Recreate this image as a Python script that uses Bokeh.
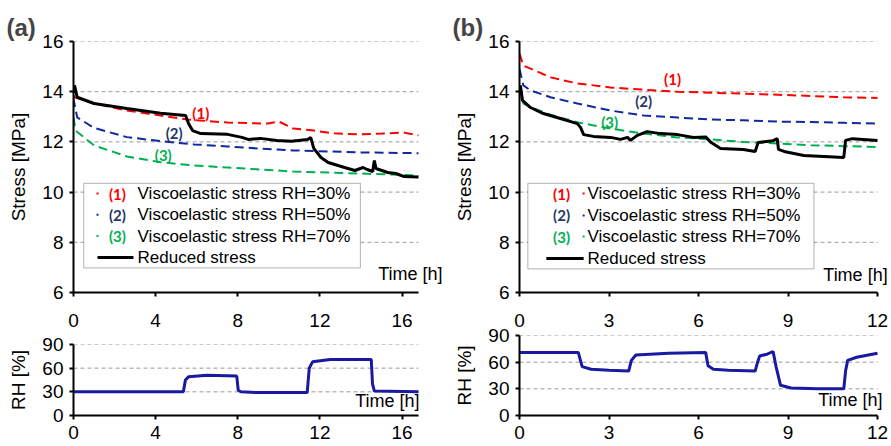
from bokeh.plotting import figure
from bokeh.models import Range1d, FixedTicker, Label, BoxAnnotation, LinearAxis
from bokeh.layouts import row, column
from bokeh.embed import file_html
from bokeh.resources import INLINE

# ---------------- data : panel (a) ----------------
a_red_t = [0, 0.05, 1.0, 2.6, 4.24, 5.56, 7.5, 9.46, 10.0, 10.7, 11.7, 12.7, 14.0, 15.0, 16.1, 16.8]
a_red_s = [13.85, 13.78, 13.53, 13.25, 13.05, 12.89, 12.77, 12.73, 12.81, 12.53, 12.45, 12.34, 12.30, 12.33, 12.37, 12.26]
a_blue_t = [0, 0.03, 0.18, 0.99, 2.6, 4.24, 5.87, 7.5, 9.1, 10.7, 12.4, 14.0, 16.8]
a_blue_s = [13.75, 13.58, 12.98, 12.56, 12.19, 12.03, 11.90, 11.82, 11.73, 11.66, 11.62, 11.58, 11.55]
a_green_t = [0, 0.1, 1.0, 2.6, 4.24, 5.87, 7.5, 9.1, 10.7, 12.4, 14.0, 16.8]
a_green_s = [12.98, 12.45, 11.86, 11.42, 11.19, 11.06, 10.98, 10.90, 10.82, 10.78, 10.74, 10.66]
a_black_t = [0, 0.05, 0.18, 1.0, 2.6, 4.24, 5.46, 5.6, 5.8, 6.2, 7.5, 8.2, 8.5, 9.1, 9.9, 10.6, 11.4,
             11.55, 11.7, 12.05, 12.4, 13.2, 13.7, 14.1, 14.3, 14.57, 14.65, 14.73, 15.3, 15.7, 16.1, 16.8]
a_black_s = [13.95, 14.25, 13.78, 13.53, 13.33, 13.14, 13.05, 12.73, 12.45, 12.33, 12.30, 12.18, 12.10, 12.14, 12.06, 12.03, 12.10,
             12.18, 11.74, 11.38, 11.18, 10.98, 10.86, 10.98, 10.90, 10.82, 11.26, 10.94, 10.78, 10.74, 10.62, 10.60]
a_rh_t = [0, 5.35, 5.45, 5.6, 6.5, 7.95, 8.02, 8.15, 9.0, 11.38, 11.48, 11.64, 12.5, 14.5, 14.56, 14.65, 16.8]
a_rh = [30, 30, 45, 49, 51, 50, 32, 30, 29, 29, 60, 68, 71, 71, 40, 31, 30]
a_xticks = [0, 4, 8, 12, 16]
a_tmax = 16.8

# ---------------- data : panel (b) ----------------
b_visco_t = [0, 0.13, 0.37, 1.04, 1.94, 3.05, 4.16, 5.3, 6.4, 7.5, 8.66, 9.76, 10.87, 12]
b_red_s = [15.52, 15.04, 14.92, 14.57, 14.33, 14.17, 14.08, 14.00, 13.96, 13.92, 13.88, 13.83, 13.78, 13.75]
b_blue_s = [14.9, 14.25, 14.05, 13.78, 13.53, 13.25, 13.05, 12.97, 12.89, 12.86, 12.81, 12.79, 12.76, 12.73]
b_green_s = [14.15, 13.53, 13.38, 13.08, 12.78, 12.53, 12.33, 12.18, 12.10, 12.00, 11.94, 11.87, 11.83, 11.80]
b_black_t = [0, 0.03, 0.1, 0.37, 0.8, 1.37, 1.94, 2.05, 2.15, 2.48, 3.05, 3.39, 3.62, 3.72, 3.95, 4.28, 4.73,
             5.3, 5.83, 6.24, 6.4, 6.74, 7.5, 7.9, 8.0, 8.5, 8.64, 8.68, 8.87, 9.53, 10.87, 10.93, 11.16, 12]
b_black_s = [14.0, 14.25, 13.65, 13.37, 13.13, 12.93, 12.73, 12.57, 12.29, 12.22, 12.18, 12.10, 12.18, 12.06, 12.26, 12.41, 12.33,
             12.29, 12.18, 12.20, 12.0, 11.74, 11.70, 11.62, 11.98, 12.05, 12.13, 11.70, 11.62, 11.46, 11.38, 12.06, 12.13, 12.06]
b_rh_t = [0, 1.97, 2.1, 2.4, 3.0, 3.66, 3.75, 3.9, 5.0, 6.24, 6.32, 6.5, 7.0, 7.9, 7.98, 8.05, 8.3, 8.5, 8.6, 8.75, 9.1,
          10.0, 10.87, 10.93, 11.0, 11.3, 12]
b_rh = [71, 71, 55, 52, 51, 50, 62, 68, 70, 71, 56, 52, 51, 50, 60, 67, 69, 72, 55, 34, 31, 30, 30, 50, 62, 65.5, 70]
b_xticks = [0, 3, 6, 9, 12]
b_tmax = 12

stress_ticks = [6, 8, 10, 12, 14, 16]
rh_ticks = [0, 30, 60, 90]
legend_labels = ["Viscoelastic stress RH=30%", "Viscoelastic stress RH=50%",
                 "Viscoelastic stress RH=70%", "Reduced stress"]
tags = ["(1)", "(2)", "(3)"]

RED, BLUE, GREEN = "#ff0000", "#1028a0", "#00b050"
TAG_COLORS = ["#ff0000", "#1f3864", "#00b050"]
RH_COLOR = "#1a1aa0"
FONT = "Liberation Sans"

TOP_H = 304          # height of the stress figures
RH_H = 446 - TOP_H   # height of the RH figures


def style_axis(ax):
    ax.axis_line_width = 2
    ax.axis_line_color = "black"
    ax.major_tick_line_width = 2
    ax.major_tick_line_color = "black"
    ax.major_tick_out = 4
    ax.major_tick_in = 0
    ax.minor_tick_line_color = None
    ax.major_label_text_font = FONT
    ax.major_label_text_font_size = "19px"
    ax.major_label_text_color = "black"
    ax.axis_label_text_font = FONT
    ax.axis_label_text_font_size = "19px"
    ax.axis_label_text_font_style = "normal"
    ax.axis_label_text_color = "black"


def make_fig(w, h, tmax, pxh, yr, yt, bt, bb):
    # frame is a little wider than the data span so that "Time [h]" fits; axis is bounded to the data span
    bl, br = 73, 2
    frame_w = w - bl - br
    p = figure(width=w, height=h, x_range=Range1d(0, frame_w / pxh), y_range=Range1d(*yr),
               output_backend="svg", toolbar_location=None,
               min_border_left=bl, min_border_right=br, min_border_top=bt, min_border_bottom=bb)
    p.outline_line_color = None
    p.background_fill_color = "white"
    p.border_fill_color = "white"
    p.xgrid.visible = False
    p.ygrid.visible = False
    p.segment(x0=[0] * len(yt), x1=[tmax] * len(yt), y0=yt, y1=yt, line_color="#9a9a9a",
              line_dash="4 3", line_width=1, level="underlay")
    p.yaxis.ticker = FixedTicker(ticks=yt)
    p.xaxis.bounds = (0, tmax)
    style_axis(p.xaxis[0])
    style_axis(p.yaxis[0])
    p.yaxis.major_label_standoff = 6
    p.yaxis.axis_label_standoff = 10
    return p


def add_text(p, x, y, text, size, color="black", align="left", bold=False, font=FONT):
    p.add_layout(Label(x=x, y=y, text=text, text_font=font, text_font_size=size,
                       text_color=color, text_align=align, text_baseline="middle",
                       text_font_style="bold" if bold else "normal"))


def stress_panel(w, tmax, pxh, xt, series, black, tag_pos, leg, time_pos, panel_lab):
    p = make_fig(w, TOP_H, tmax, pxh, (6, 16), stress_ticks, 41, TOP_H - 292)
    # time axis of the stress plot: tick marks only (its numbers are shown just below, on the RH plot's top)
    p.xaxis.ticker = FixedTicker(ticks=[], minor_ticks=xt)
    p.xaxis.minor_tick_line_color = "black"
    p.xaxis.minor_tick_line_width = 2
    p.xaxis.minor_tick_out = 4
    p.xaxis.minor_tick_in = 0
    p.xaxis.major_label_standoff = 0
    p.yaxis.axis_label = "Stress [MPa]"
    p.title.text = panel_lab
    p.title.text_font = FONT
    p.title.text_font_size = "24px"
    p.title.text_font_style = "bold"
    p.title.align = "left"
    p.title.offset = -67
    p.title.standoff = 2
    for (t, s, c) in series:
        p.line(t, s, line_color=c, line_width=2, line_dash="9 5")
    p.line(black[0], black[1], line_color="black", line_width=3)
    for (x, y), tg, c in zip(tag_pos, tags, TAG_COLORS):
        add_text(p, x, y, tg, "15px", c, "center", True, "Lato")
    # legend box
    L = leg
    p.add_layout(BoxAnnotation(left=L["left"], right=L["right"], top=L["top"], bottom=L["bottom"],
                               fill_color="white", fill_alpha=1, line_color="black", line_width=1, level="annotation"))
    dx = 1.0 / pxh
    dy = 10 / 251
    for i, lab in enumerate(legend_labels):
        y = L["rows"][i]
        if i < 3:
            add_text(p, L["tag_x"], y, tags[i], "15px", TAG_COLORS[i], "center", True, "Lato")
            p.add_layout(BoxAnnotation(left=L["dot_x"] - dx, right=L["dot_x"] + dx, top=y + dy, bottom=y - dy,
                                       fill_color=[RED, BLUE, GREEN][i], fill_alpha=1, line_color=None))
        else:
            p.add_layout(BoxAnnotation(left=L["line_x"][0], right=L["line_x"][1], top=y + 1.5 * dy, bottom=y - 1.5 * dy,
                                       fill_color="black", fill_alpha=1, line_color=None))
        add_text(p, L["text_x"], y, lab, "17px")
    add_text(p, time_pos[0], time_pos[1], "Time [h]", "18px", align="right")
    return p


def rh_panel(w, tmax, pxh, xt, frame_top, top_stand, t, rh, time_pos):
    p = make_fig(w, RH_H, tmax, pxh, (0, 90), rh_ticks, frame_top - TOP_H, 31)
    p.xaxis.ticker = FixedTicker(ticks=xt)
    p.xaxis.major_label_standoff = 6
    p.yaxis.axis_label = "RH [%]"
    # numbers of the stress plot's time axis
    top = LinearAxis(ticker=FixedTicker(ticks=xt), bounds=(0, tmax))
    style_axis(top)
    top.axis_line_color = None
    top.major_tick_line_color = None
    top.major_tick_out = 0
    top.major_label_standoff = top_stand
    p.add_layout(top, "above")
    p.line(t, rh, line_color=RH_COLOR, line_width=3)
    add_text(p, time_pos[0], time_pos[1], "Time [h]", "18px", align="right")
    return p


PXH_A = 345 / a_tmax
PXH_B = 358 / b_tmax

# panel (a)
a_series = [(a_red_t, a_red_s, RED), (a_blue_t, a_blue_s, BLUE), (a_green_t, a_green_s, GREEN)]
leg_a = dict(left=0.5, right=13.97, top=10.35, bottom=6.98,
             rows=[9.94, 9.10, 8.25, 7.39], tag_x=2.14, dot_x=1.17, text_x=3.12, line_x=(1.17, 2.92))
pa = stress_panel(446, a_tmax, PXH_A, a_xticks, a_series, (a_black_t, a_black_s),
                  [(6.2, 13.17), (4.9, 12.37), (4.37, 11.49)], leg_a, (17.97, 6.72), "(a)")
pa_rh = rh_panel(446, a_tmax, PXH_A, a_xticks, 344, 18, a_rh_t, a_rh, (16.85, 19))

# panel (b)
b_series = [(b_visco_t, b_red_s, RED), (b_visco_t, b_blue_s, BLUE), (b_visco_t, b_green_s, GREEN)]
leg_b = dict(left=0.28, right=9.87, top=10.35, bottom=6.94,
             rows=[9.94, 9.07, 8.23, 7.35], tag_x=1.41, dot_x=2.15, text_x=2.28, line_x=(0.9, 2.15))
pb = stress_panel(445, b_tmax, PXH_B, b_xticks, b_series, (b_black_t, b_black_s),
                  [(5.13, 14.49), (4.16, 13.61), (3.02, 12.81)], leg_b, (12.34, 6.68), "(b)")
pb_rh = rh_panel(445, b_tmax, PXH_B, b_xticks, 335, 9, b_rh_t, b_rh, (12.17, 16.9))

layout = row(column(pa, pa_rh), column(pb, pb_rh))
open("out.html", "w").write(file_html(layout, INLINE))
